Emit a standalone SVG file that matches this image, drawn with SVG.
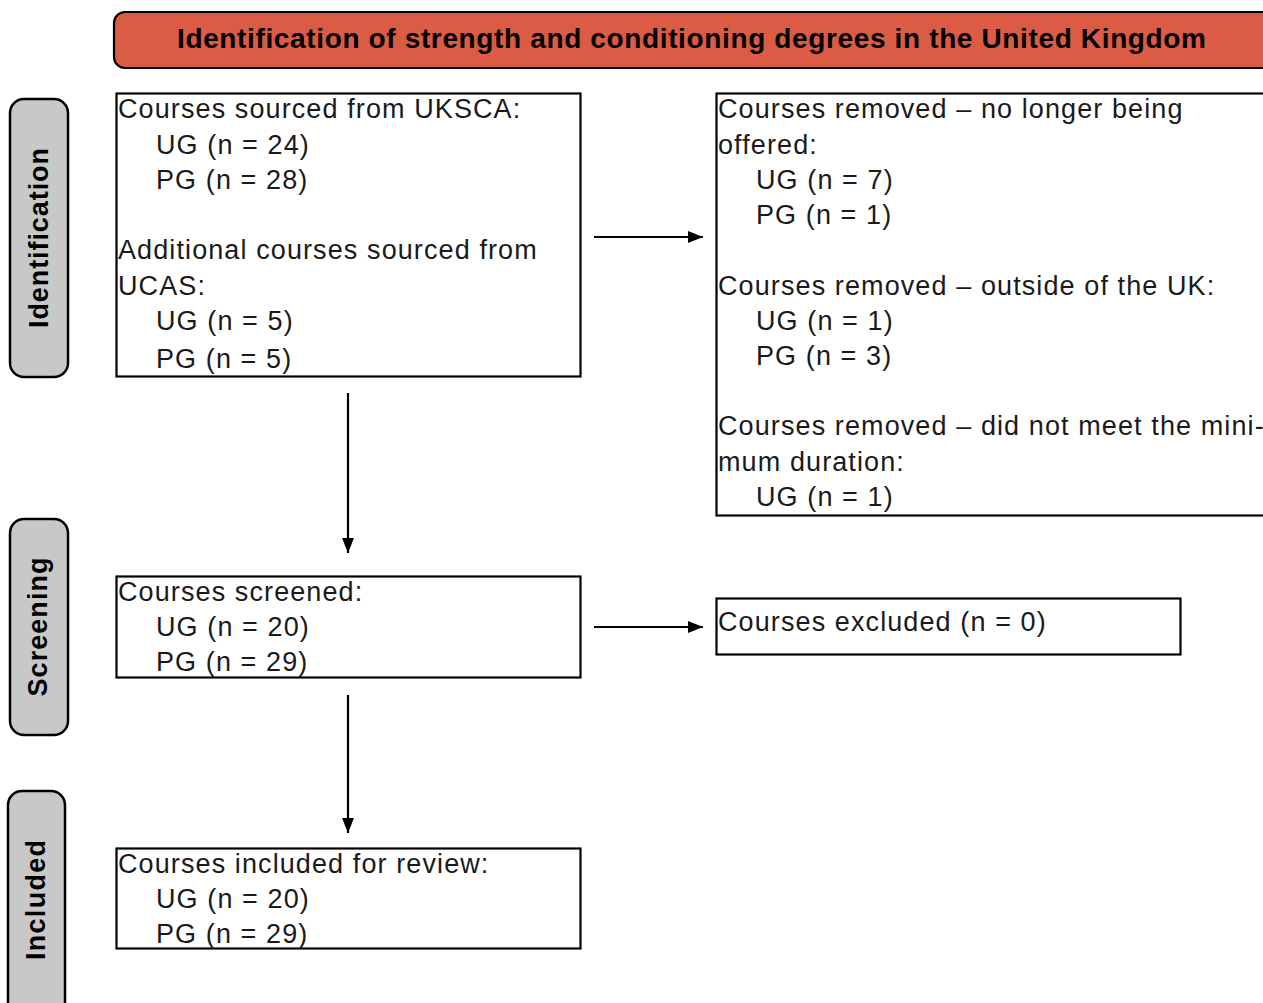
<svg xmlns="http://www.w3.org/2000/svg" width="1263" height="1003" viewBox="0 0 1263 1003">
<style>
.box{fill:#fff;stroke:#000;stroke-width:2.2}
.side{fill:#c8c8c8;stroke:#000;stroke-width:2.5}
.t{font-family:"Liberation Sans",Arial,sans-serif;font-size:27px;fill:#1a1a1a;letter-spacing:1.1px}
.sl{font-family:"Liberation Sans",Arial,sans-serif;font-size:27px;font-weight:bold;fill:#000;text-anchor:middle}
.edge{stroke:#000;stroke-width:2.2;fill:none;marker-end:url(#ah)}
</style>
<defs>
<marker id="ah" viewBox="0 0 15 12" refX="15" refY="6" markerWidth="15" markerHeight="12" markerUnits="userSpaceOnUse" orient="auto">
<path d="M0,0 L15,6 L0,12 Z" fill="#000"/>
</marker>
</defs>
<rect width="1263" height="1003" fill="#fff"/>
<g id="title">
<rect x="114" y="12" width="1160" height="56" rx="11" fill="#db5b44" stroke="#000" stroke-width="2.2"/>
<text x="177" y="48" font-family="Liberation Sans,Arial,sans-serif" font-size="28" font-weight="bold" textLength="1029" lengthAdjust="spacing">Identification of strength and conditioning degrees in the United Kingdom</text>
</g>
<g id="phase-identification">
<rect class="side" x="10" y="99" width="58" height="278" rx="14"/>
<text class="sl" transform="translate(48,238) rotate(-90)" textLength="180" lengthAdjust="spacing">Identification</text>
</g>
<g id="phase-screening">
<rect class="side" x="10" y="519" width="58" height="216" rx="14"/>
<text class="sl" transform="translate(47,627) rotate(-90)" textLength="139" lengthAdjust="spacing">Screening</text>
</g>
<g id="phase-included">
<rect class="side" x="8" y="791" width="57" height="230" rx="14"/>
<text class="sl" transform="translate(45,900) rotate(-90)" textLength="120" lengthAdjust="spacing">Included</text>
</g>
<g id="sourced">
<rect class="box" x="116.5" y="93.5" width="464" height="283"/>
<text class="t" x="118" y="118">Courses sourced from UKSCA:</text>
<text class="t" x="156" y="154">UG (n = 24)</text>
<text class="t" x="156" y="189">PG (n = 28)</text>
<text class="t" x="118" y="259">Additional courses sourced from</text>
<text class="t" x="118" y="295">UCAS:</text>
<text class="t" x="156" y="330">UG (n = 5)</text>
<text class="t" x="156" y="368">PG (n = 5)</text>
</g>
<g id="removed">
<rect class="box" x="716.5" y="93.5" width="560" height="422"/>
<text class="t" x="718" y="118">Courses removed – no longer being</text>
<text class="t" x="718" y="154">offered:</text>
<text class="t" x="756" y="189">UG (n = 7)</text>
<text class="t" x="756" y="224">PG (n = 1)</text>
<text class="t" x="718" y="295">Courses removed – outside of the UK:</text>
<text class="t" x="756" y="330">UG (n = 1)</text>
<text class="t" x="756" y="365">PG (n = 3)</text>
<text class="t" x="718" y="435">Courses removed – did not meet the mini-</text>
<text class="t" x="718" y="471">mum duration:</text>
<text class="t" x="756" y="506">UG (n = 1)</text>
</g>
<g id="screened">
<rect class="box" x="116.5" y="576.5" width="464" height="101"/>
<text class="t" x="118" y="601">Courses screened:</text>
<text class="t" x="156" y="636">UG (n = 20)</text>
<text class="t" x="156" y="671">PG (n = 29)</text>
</g>
<g id="excluded">
<rect class="box" x="716.5" y="598.5" width="464" height="56"/>
<text class="t" x="718" y="631">Courses excluded (n = 0)</text>
</g>
<g id="included">
<rect class="box" x="116.5" y="848.5" width="464" height="100"/>
<text class="t" x="118" y="873">Courses included for review:</text>
<text class="t" x="156" y="908">UG (n = 20)</text>
<text class="t" x="156" y="943">PG (n = 29)</text>
</g>
<g id="connectors">
<line class="edge" x1="594" y1="237" x2="703" y2="237"/>
<line class="edge" x1="348" y1="393" x2="348" y2="553"/>
<line class="edge" x1="594" y1="627" x2="703" y2="627"/>
<line class="edge" x1="348" y1="695" x2="348" y2="833"/>
</g>
</svg>
